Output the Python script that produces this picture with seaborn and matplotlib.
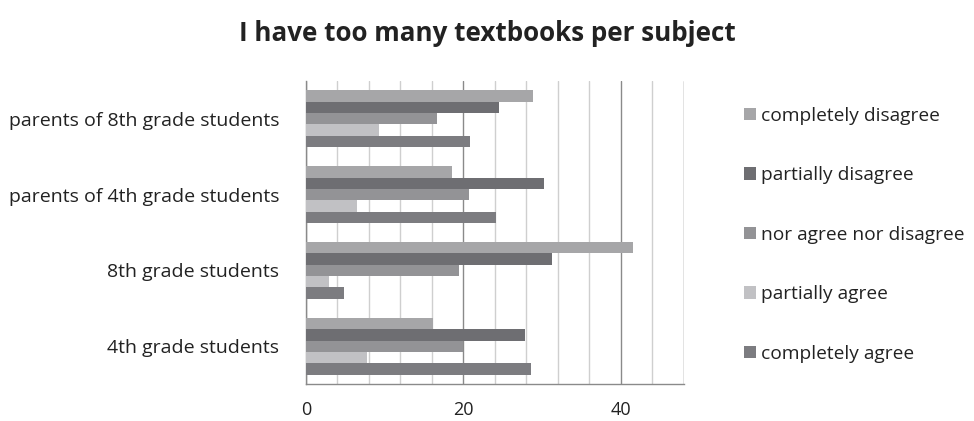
import matplotlib
matplotlib.use("Agg")
import matplotlib.pyplot as plt
import seaborn as sns
import pandas as pd
from matplotlib.ticker import MultipleLocator
from matplotlib.patches import Patch

groups = ["parents of 8th grade students", "parents of 4th grade students",
          "8th grade students", "4th grade students"]
answers = ["completely disagree", "partially disagree", "nor agree nor disagree",
           "partially agree", "completely agree"]
completely_disagree = [28.8, 18.6, 41.6, 16.1]
partially_disagree = [24.5, 30.2, 31.3, 27.8]
nor_agree_nor_disagree = [16.6, 20.7, 19.5, 20.0]
partially_agree = [9.3, 6.5, 2.9, 7.8]
completely_agree = [20.9, 24.1, 4.9, 28.6]
colors = ["#a6a6a8", "#6e6e72", "#939396", "#c1c1c4", "#7c7c80"]

series = [completely_disagree, partially_disagree, nor_agree_nor_disagree,
          partially_agree, completely_agree]
rows = []
for ans, vals in zip(answers, series):
    for g, v in zip(groups, vals):
        rows.append({"group": g, "answer": ans, "value": v})
df = pd.DataFrame(rows)

sns.set_theme(style="white")
plt.rcParams["font.family"] = ["Open Sans", "DejaVu Sans"]

fig = plt.figure(figsize=(9.74, 4.21), dpi=100)
ax = fig.add_axes([0.314, 0.0875, 0.388, 0.7205])

sns.barplot(data=df, y="group", x="value", hue="answer", order=groups,
            hue_order=answers, palette=colors, orient="h", width=0.75,
            saturation=1, linewidth=0, edgecolor="none", ax=ax,
            legend=False, zorder=3)

ax.set_xlim(0, 48)
ax.xaxis.set_major_locator(MultipleLocator(20))
ax.xaxis.set_minor_locator(MultipleLocator(4))
ax.grid(which="minor", axis="x", color="#cfcfcf", linewidth=1.0, zorder=0)
ax.grid(which="major", axis="x", color="#8a8a8a", linewidth=1.0, zorder=0)
ax.axvline(48, color="#9a9a9a", linewidth=1.0, zorder=1)

for side in ["top", "right"]:
    ax.spines[side].set_visible(False)
for side in ["left", "bottom"]:
    ax.spines[side].set_color("#8a8a8a")
    ax.spines[side].set_linewidth(1.0)

ax.tick_params(axis="x", which="major", direction="out", length=7, width=1,
               color="#8a8a8a", labelsize=13, labelcolor="#222222", pad=5)
ax.tick_params(axis="x", which="minor", length=0)
ax.tick_params(axis="y", length=0, labelsize=14, labelcolor="#222222", pad=19)
ax.set_xlabel("")
ax.set_ylabel("")

fig.suptitle("I have too many textbooks per subject", x=0.5, y=0.952,
             fontsize=18.7, fontweight="bold", color="#222222")

handles = [Patch(facecolor=c, edgecolor="none") for c in colors]
fig.legend(handles, answers, loc="upper left", bbox_to_anchor=(0.756, 0.765),
           frameon=False, fontsize=13.8, labelcolor="#222222",
           handlelength=0.62, handleheight=0.62, handletextpad=0.28,
           labelspacing=2.17, borderaxespad=0)

fig.savefig("out.png", dpi=100)
